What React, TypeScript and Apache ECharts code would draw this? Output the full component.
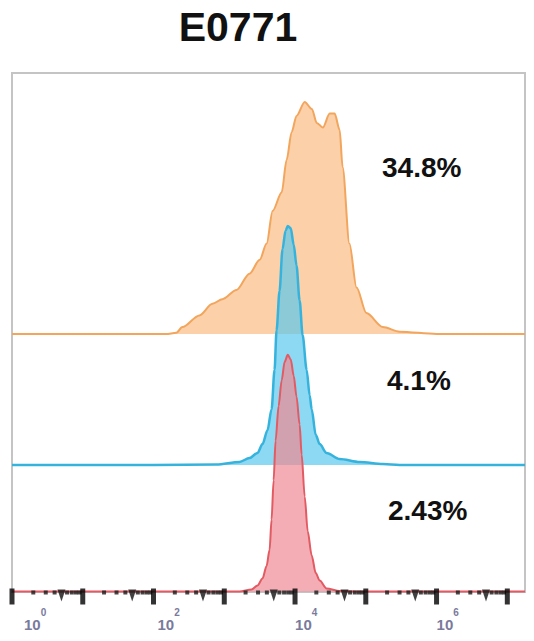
import React, { useEffect, useRef } from "react";
import * as echarts from "echarts";

// ---- data (fluorescence intensity, normalised count) ----
const titleText = "E0771";
const percentLabels = ["34.8%", "4.1%", "2.43%"];

const X_MIN = 1;
const X_MAX = 17782794; // 10^7.25

const orangeX = [1, 60, 150, 210, 256, 445, 680, 940, 1490, 2270, 3170, 3970, 4820, 6470, 7600, 8950, 10500, 13700, 17300, 20300, 24700, 30900, 36300, 42700, 47000, 58700, 74000, 102000, 174000, 302000, 1000000, X_MAX];
const orangeY = [0, 0, 0, 0.5, 3, 8, 13, 15, 19, 26, 32, 39, 53, 61, 75, 87, 94, 100, 97, 91, 89, 95, 95, 88, 72, 39, 20, 9, 3, 1, 0, 0];

const blueX = [1, 100, 776, 1640, 2270, 2950, 3470, 4080, 4660, 5130, 5480, 6040, 6650, 7340, 7900, 8700, 9570, 10500, 11600, 12800, 14600, 16100, 17200, 19600, 22300, 27900, 42700, 82400, 174000, 300000, 1000000, X_MAX];
const blueY = [0, 0, 0.2, 1.3, 3, 5.2, 9, 15, 24, 41, 58, 75, 93, 101, 103, 102, 95, 86, 71, 56, 41, 30, 24, 13, 9, 5.2, 2.6, 1.3, 0.4, 0, 0, 0];

const redX = [1, 100, 1640, 2430, 2950, 3470, 3960, 4370, 4660, 4980, 5310, 5860, 6470, 7130, 7900, 8700, 9570, 10500, 11600, 12400, 13700, 15100, 17200, 19600, 22300, 27900, 42700, 82400, 1000000, X_MAX];
const redY = [0, 0, 0, 0.9, 2.6, 5.6, 11, 18, 31, 48, 65, 80, 91, 99, 102, 100, 93, 84, 72, 59, 41, 26, 15.5, 8, 4.7, 1.3, 0.2, 0, 0, 0];

const decadeTicks = [1, 10, 100, 1000, 10000, 100000, 1000000, 10000000];
const minorDots = [2, 3, 4, 6, 7, 8, 9];
const halfTicks = [5];

// ---- layout ----
const W = 534;
const H = 641;
const GRID_LEFT = 12;
const GRID_RIGHT = 525;
const GRID_TOP = 73;
const GRID_BOTTOM = 592;
const PX_PER_UNIT = 2.32;
const baselines = [334, 465, 591.5];

function yRange(base: number) {
  const total = (GRID_BOTTOM - GRID_TOP) / PX_PER_UNIT;
  const frac = (GRID_BOTTOM - base) / (GRID_BOTTOM - GRID_TOP);
  return { min: -frac * total, max: (1 - frac) * total };
}

function zip(xs: number[], ys: number[]) {
  return xs.map((x, i) => [x, ys[i]]);
}

export default function App() {
  const ref = useRef<HTMLDivElement>(null);
  useEffect(() => {
    if (!ref.current) return;
    const chart = echarts.init(ref.current, undefined, { renderer: "svg" });

    const yAxes = baselines.map((b) => {
      const r = yRange(b);
      return {
        type: "value",
        min: r.min,
        max: r.max,
        show: false,
        splitLine: { show: false },
      };
    });

    const dots: number[][] = [];
    const halves: number[][] = [];
    decadeTicks.slice(0, -1).forEach((d) => {
      minorDots.forEach((m) => dots.push([d * m, 0]));
      halfTicks.forEach((m) => halves.push([d * m, 0]));
    });

    const labelColor = "#7a7a9c";
    const labelPad: Record<number, number> = { 0: 12, 2: 4, 4: 0, 6: 0 };
    const rich: any = {
      s: { fontSize: 10, lineHeight: 12, verticalAlign: "top", color: labelColor, fontFamily: "Liberation Sans", fontWeight: "bold" },
    };
    Object.keys(labelPad).forEach((k) => {
      rich["b" + k] = {
        fontSize: 15,
        lineHeight: 25,
        verticalAlign: "bottom",
        color: labelColor,
        fontFamily: "Liberation Sans",
        fontWeight: "bold",
        padding: [0, 0, 0, labelPad[Number(k)]],
      };
    });

    chart.setOption({
      animation: false,
      backgroundColor: "#ffffff",
      grid: {
        left: GRID_LEFT,
        right: W - GRID_RIGHT,
        top: GRID_TOP,
        bottom: H - GRID_BOTTOM,
        show: true,
        borderColor: "#c4c4c4",
        borderWidth: 2,
        backgroundColor: "transparent",
      },
      xAxis: {
        type: "log",
        logBase: 10,
        min: X_MIN,
        max: X_MAX,
        axisLine: { show: false },
        axisTick: { show: false },
        splitLine: { show: false },
        minorTick: { show: false },
        axisLabel: {
          margin: 15,
          align: "left",
          formatter: (v: number) => {
            const l = Math.log10(v);
            const e = Math.round(l);
            if (Math.abs(l - e) > 1e-6 || e % 2 !== 0 || e > 6) return "";
            return `{b${e}|10}{s|${e}}`;
          },
          rich,
        },
      },
      yAxis: yAxes,
      graphic: [
        {
          type: "text",
          x: 238,
          y: 27,
          style: {
            text: titleText,
            fontSize: 41,
            fontWeight: "bold",
            fontFamily: "Liberation Sans",
            fill: "#111",
            textAlign: "center",
            textVerticalAlign: "middle",
          },
        },
        ...percentLabels.map((t, i) => ({
          type: "text",
          x: [382, 387, 388][i],
          y: [167, 380, 510][i],
          style: {
            text: t,
            fontSize: 28,
            fontWeight: "bold",
            fontFamily: "Liberation Sans",
            fill: "#111",
            textAlign: "left",
            textVerticalAlign: "middle",
          },
        })),
      ],
      series: [
        {
          type: "line",
          yAxisIndex: 0,
          data: zip(orangeX, orangeY),
          showSymbol: false,
          smooth: 0.3,
          smoothMonotone: "x",
          lineStyle: { color: "#f2a55c", width: 2 },
          areaStyle: { color: "#fcd0a8", opacity: 1 },
          z: 2,
        },
        {
          type: "line",
          yAxisIndex: 1,
          data: zip(blueX, blueY),
          showSymbol: false,
          smooth: 0.3,
          smoothMonotone: "x",
          lineStyle: { color: "#36b3dc", width: 2.5 },
          areaStyle: { color: "#5cc8ec", opacity: 0.7 },
          z: 3,
        },
        {
          type: "line",
          yAxisIndex: 2,
          data: zip(redX, redY),
          showSymbol: false,
          smooth: 0.3,
          smoothMonotone: "x",
          lineStyle: { color: "#e25a62", width: 2 },
          areaStyle: { color: "#f08a94", opacity: 0.7 },
          z: 4,
        },
        {
          type: "scatter",
          yAxisIndex: 2,
          data: dots,
          symbol: "rect",
          symbolSize: [4, 4],
          symbolOffset: [0, 1],
          itemStyle: { color: "#1a1a1a" },
          clip: false,
          silent: true,
          z: 6,
        },
        {
          type: "scatter",
          yAxisIndex: 2,
          data: halves,
          symbol: "triangle",
          symbolSize: [8, 12],
          symbolRotate: 180,
          symbolOffset: [0, 4],
          itemStyle: { color: "#111" },
          clip: false,
          silent: true,
          z: 6,
        },
        {
          type: "scatter",
          yAxisIndex: 2,
          data: decadeTicks.map((d) => [d, 0]),
          symbol: "rect",
          symbolSize: [5, 16],
          symbolOffset: [0, 5],
          itemStyle: { color: "#000" },
          clip: false,
          silent: true,
          z: 6,
        },
      ],
    });
    return () => chart.dispose();
  }, []);

  return (
    <div
      ref={ref}
      style={{ position: "absolute", left: 0, top: 0, width: W, height: H, background: "#fff" }}
    />
  );
}
